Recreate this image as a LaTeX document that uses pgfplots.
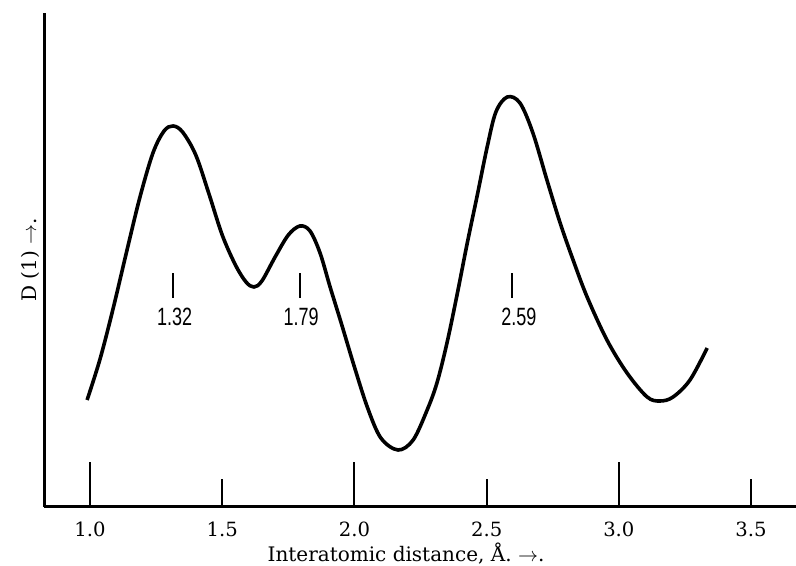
\documentclass[border=0pt]{standalone}
\usepackage{fontspec}
\usepackage{graphicx}
\usepackage{pgfplots}
\pgfplotsset{compat=1.18}
\setmainfont{DejaVu Serif}
\newfontfamily\labelsans{Liberation Sans}

\begin{document}
\begin{tikzpicture}
\begin{axis}[
    scale only axis,
    width=376pt, height=247pt,
    xmin=0.826, xmax=3.67,
    ymin=0, ymax=494,
    axis x line=bottom, axis y line=left,
    axis line style={-, line width=1.5pt, black},
    ytick=\empty,
    xtick={1,2,3},
    xticklabels={1.0,2.0,3.0},
    extra x ticks={1.5,2.5,3.5},
    extra x tick labels={1.5,2.5,3.5},
    tick align=inside,
    major tick length=22.5pt,
    extra x tick style={major tick length=14pt},
    every tick/.style={black, line width=1pt},
    xticklabel style={font=\fontsize{9.8}{11}\selectfont, anchor=base, yshift=-15pt},
    xlabel={Interatomic distance, Å. $\rightarrow$.},
    ylabel={D (1) $\rightarrow$.},
    xlabel style={at={(rel axis cs:0.4814,0)}, anchor=base, yshift=-27.5pt,
                  font=\fontsize{10}{12}\selectfont},
    ylabel style={at={(rel axis cs:0,0.5)}, anchor=center, yshift=7pt,
                  font=\fontsize{10}{12}\selectfont},
    clip=false,
]
\coordinate (bl) at (rel axis cs:0,0);
\coordinate (tr) at (rel axis cs:1,1);

% D(1) curve
\addplot[black, line width=1.8pt, smooth, tension=0.55] coordinates {
  (0.989,107) (1.038,148) (1.087,198) (1.140,257) (1.189,310)
  (1.238,354) (1.280,376) (1.314,381) (1.350,375) (1.400,352)
  (1.450,313) (1.500,272) (1.550,242) (1.590,225) (1.620,220)
  (1.650,226) (1.700,250) (1.750,272) (1.794,281) (1.832,276)
  (1.870,254) (1.908,220) (1.950,184) (2.000,140) (2.050,99)
  (2.100,69) (2.165,57) (2.222,67) (2.275,97) (2.312,124)
  (2.350,164) (2.388,212) (2.426,263) (2.464,311) (2.502,360)
  (2.535,395) (2.578,410) (2.626,404) (2.675,374) (2.728,327)
  (2.778,284) (2.827,247) (2.880,210) (2.955,167) (3.031,134)
  (3.107,110) (3.156,106) (3.205,110) (3.269,127) (3.334,159)
};

% peak markers
\addplot[black, line width=1pt] coordinates {(1.315,209) (1.315,234)};
\addplot[black, line width=1pt] coordinates {(1.795,209) (1.795,234)};
\addplot[black, line width=1pt] coordinates {(2.595,209) (2.595,234)};

\node[font=\labelsans\fontsize{12.5}{14}\selectfont] at (axis cs:1.320,190) {\scalebox{0.72}[1]{1.32}};
\node[font=\labelsans\fontsize{12.5}{14}\selectfont] at (axis cs:1.798,190) {\scalebox{0.72}[1]{1.79}};
\node[font=\labelsans\fontsize{12.5}{14}\selectfont] at (axis cs:2.622,190) {\scalebox{0.72}[1]{2.59}};
\end{axis}
\pgfresetboundingbox
\path ([xshift=-22pt,yshift=-29.5pt]bl) rectangle ([yshift=6.5pt]tr);
\end{tikzpicture}
\end{document}
